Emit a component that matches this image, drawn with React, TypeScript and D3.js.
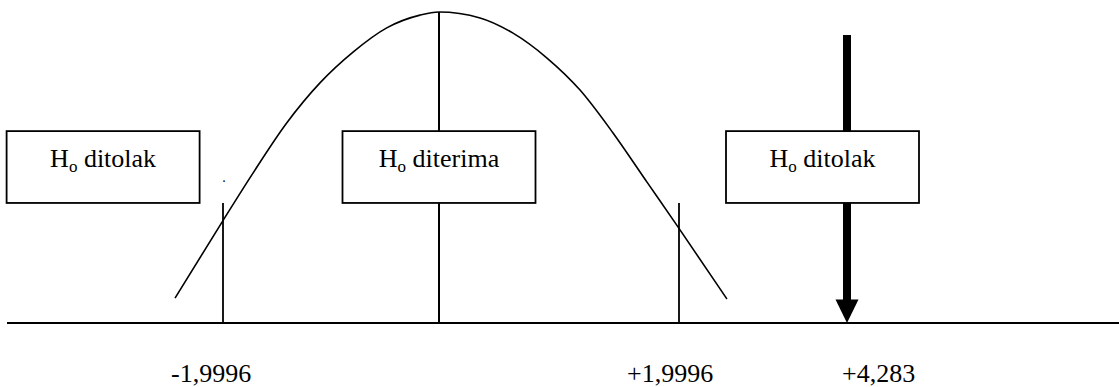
import * as d3 from "d3";
import React from "react";

// t-test acceptance / rejection sketch
const width = 1119;
const height = 387;

// bell curve: t position and relative height
const curveT = [-2.444, -1.997, -1.722, -1.41, -1.102, -0.796, -0.484, -0.176, 0, 0.342, 0.617, 0.9, 1.175, 1.45, 1.733, 1.991, 2.652];
const curveH = [0.08, 0.331, 0.482, 0.643, 0.772, 0.871, 0.949, 0.99, 1, 0.981, 0.932, 0.852, 0.749, 0.611, 0.453, 0.309, 0.077];

const criticalValues = [-1.9996, 1.9996];
const criticalLabels = ["-1,9996", "+1,9996"];
const statValue = 4.283;
const statLabel = "+4,283";

const regionWords = ["ditolak", "diterima", "ditolak"];
const regionCenters = [-3.11, 0, 3.95];

const font = "'Liberation Serif', 'Times New Roman', serif";

const App = () => {
    // the sketch is not to scale, so the axis is piecewise
    const x = d3.scaleLinear()
        .domain([-4, criticalValues[0], 0, criticalValues[1], statValue, 8])
        .range([7, 223, 439, 679, 847, width]);

    const y = d3.scaleLinear()
        .domain([0, 1])
        .range([323, 12]);

    const line = d3.line<[number, number]>()
        .x(d => x(d[0]))
        .y(d => y(d[1]))
        .curve(d3.curveMonotoneX);

    const pts = curveT.map((t, i) => [t, curveH[i]] as [number, number]);

    const boxW = 193;
    const boxTop = y(0.617);
    const boxBottom = y(0.386);
    const axisY = y(0);

    const ax = x(statValue);
    const headH = 23.5;
    const headW = 23;
    const arrowTop = y(0.926);

    return (
        <svg width={width} height={height} style={{ position: "absolute", left: 0, top: 0, background: "#fff" }}>
            <line x1={x.range()[0]} x2={width} y1={axisY} y2={axisY} stroke="#000" strokeWidth={2} />

            <path d={line(pts) ?? ""} fill="none" stroke="#000" strokeWidth={1.6} />

            <line x1={x(0)} x2={x(0)} y1={y(1)} y2={axisY} stroke="#000" strokeWidth={2} />

            {criticalValues.map((v, i) => (
                <line key={"c" + i} x1={x(v)} x2={x(v)} y1={boxBottom} y2={axisY} stroke="#000" strokeWidth={1.8} />
            ))}

            {/* arrow for the test statistic */}
            <rect x={ax - 4} y={arrowTop} width={8} height={axisY - headH - arrowTop + 0.5} fill="#000" />
            <path d={`M${ax - headW / 2},${axisY - headH}L${ax + headW / 2},${axisY - headH}L${ax},${axisY}Z`} fill="#000" />

            {regionWords.map((w, i) => {
                const cx = x(regionCenters[i]);
                return (
                    <g key={"b" + i}>
                        <rect x={cx - boxW / 2} y={boxTop} width={boxW} height={boxBottom - boxTop}
                            fill="#fff" stroke="#000" strokeWidth={1.8} />
                        <text x={cx} y={boxTop + 36} textAnchor="middle" fontFamily={font} fontSize={26} fill="#000">
                            H<tspan fontSize={17} dy={5}>o</tspan><tspan dy={-5}>{" " + w}</tspan>
                        </text>
                    </g>
                );
            })}

            <text x={x(criticalValues[0]) + 1} y={182} textAnchor="middle" fontFamily={font} fontSize={14}>.</text>

            {criticalValues.map((v, i) => (
                <text key={"l" + i} x={x(v) - 52} y={axisY + 59} fontFamily={font} fontSize={26} fill="#000">
                    {criticalLabels[i]}
                </text>
            ))}
            <text x={ax - 5} y={axisY + 59} fontFamily={font} fontSize={26} fill="#000">{statLabel}</text>
        </svg>
    );
};

export default App;
